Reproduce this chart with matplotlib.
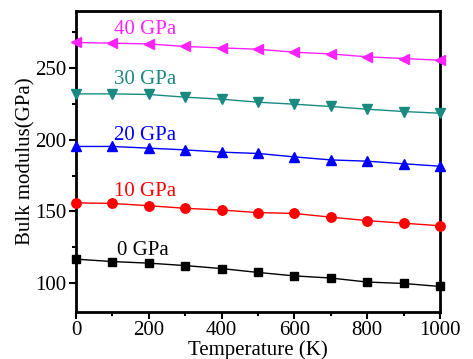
import matplotlib
matplotlib.use("Agg")
import matplotlib.pyplot as plt
from matplotlib.ticker import MultipleLocator

plt.rcParams['font.family'] = ['Liberation Serif', 'DejaVu Serif']

temperature = [0, 100, 200, 300, 400, 500, 600, 700, 800, 900, 1000]
b_0gpa = [116.7, 115.0, 113.9, 112.2, 110.1, 107.4, 105.0, 103.5, 100.7, 99.7, 97.6]
b_10gpa = [156.0, 155.6, 154.0, 152.2, 151.0, 149.2, 148.6, 146.0, 143.6, 141.8, 140.0]
b_20gpa = [195.4, 195.4, 194.2, 193.0, 191.4, 190.5, 188.1, 186.0, 185.1, 183.3, 181.6]
b_30gpa = [232.1, 232.1, 231.7, 229.8, 228.4, 226.3, 224.9, 223.3, 221.4, 219.8, 218.6]
b_40gpa = [268.0, 267.5, 267.0, 265.2, 264.2, 263.3, 261.2, 260.0, 258.0, 256.8, 255.6]

series = [
    ("0 GPa", b_0gpa, "black", "s", 6),
    ("10 GPa", b_10gpa, "red", "o", 6.8),
    ("20 GPa", b_20gpa, "blue", "^", 6.5),
    ("30 GPa", b_30gpa, "#1a8a80", "v", 6.5),
    ("40 GPa", b_40gpa, "#ff22ff", "<", 6.5),
]
label_y = [122.5, 164.2, 202.7, 242, 276.8]
label_x = [112, 105, 105, 105, 105]

fig = plt.figure(figsize=(4.73, 3.59), dpi=100)
ax = fig.add_axes([0.1607, 0.1318, 0.7695, 0.8376])

for (name, vals, col, mk, ms), ly, lx in zip(series, label_y, label_x):
    ax.plot(temperature, vals, color=col, marker=mk, markersize=ms, lw=1.0,
            clip_on=False, zorder=3)
    ax.text(lx, ly, name, color=col, fontsize=15, ha='left', va='center')

ax.set_xlim(0, 1000)
ax.set_ylim(80, 290)
ax.xaxis.set_major_locator(MultipleLocator(200))
ax.xaxis.set_minor_locator(MultipleLocator(100))
ax.yaxis.set_major_locator(MultipleLocator(50))
ax.yaxis.set_minor_locator(MultipleLocator(25))
ax.tick_params(which='both', direction='out', width=1.5, labelsize=15,
               top=False, right=False)
ax.tick_params(which='major', length=5, pad=2)
ax.tick_params(which='minor', length=3)
for sp in ax.spines.values():
    sp.set_linewidth(2)

ax.set_xlabel("Temperature (K)", fontsize=15, labelpad=0)
ax.set_ylabel("Bulk modulus(GPa)", fontsize=15, labelpad=0)

fig.savefig("out.png", dpi=100)
